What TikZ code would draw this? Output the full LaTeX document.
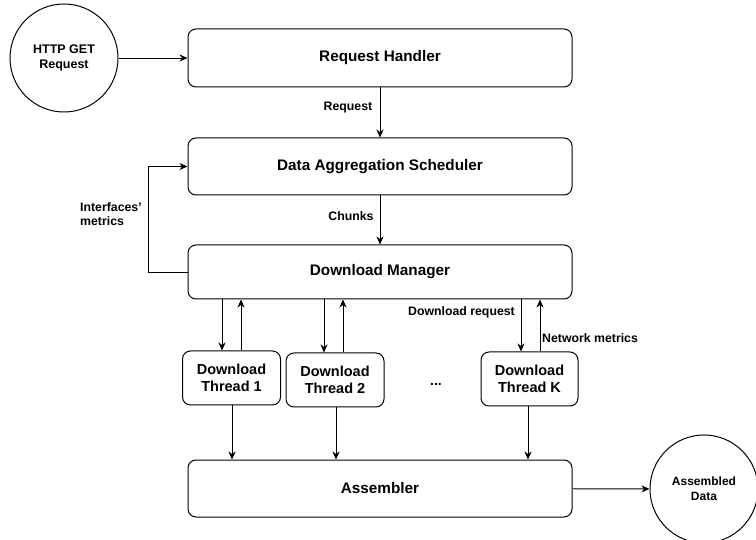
\documentclass[tikz,border=0pt]{standalone}
\usepackage{fontspec}
\setmainfont{Liberation Sans}
\usetikzlibrary{arrows.meta}
\begin{document}
\begin{tikzpicture}[x=1pt,y=-1pt,
  box/.style={draw, rounded corners=8pt, line width=1pt, inner sep=0pt, align=center,
    font=\bfseries\fontsize{15.3}{17}\selectfont},
  thr/.style={draw, rounded corners=8pt, line width=1pt, inner sep=0pt, align=center,
    minimum width=98pt, minimum height=54pt, font=\bfseries\fontsize{14.5}{17}\selectfont},
  circ/.style={draw, circle, line width=1pt, minimum size=108pt, inner sep=0pt, align=center,
    font=\bfseries\fontsize{12.5}{15.5}\selectfont},
  lbl/.style={font=\bfseries\fontsize{12.3}{14.5}\selectfont, inner sep=0pt, align=left},
  arr/.style={line width=0.9pt, -{Stealth[length=8pt,width=7pt,inset=2.5pt]}}
]
\useasboundingbox (0,0) rectangle (756,540);
\fill[white] (0,0) rectangle (756,540);
\clip (0,0) rectangle (756,540);

\node[circ] (http) at (64,58) {HTTP GET\\Request};
\node[box, minimum width=384pt, minimum height=58pt] (rh) at (380,58) {Request Handler};
\node[box, minimum width=384pt, minimum height=57pt] (das) at (380,166.5) {Data Aggregation Scheduler};
\node[box, minimum width=384pt, minimum height=54pt] (dm) at (380,272) {Download Manager};
\node[box, minimum width=384pt, minimum height=57pt] (asm) at (380,488.5) {Assembler};
\node[thr] (t1) at (231.5,378) {Download\\Thread 1};
\node[thr] (t2) at (335,380) {Download\\Thread 2};
\node[thr, minimum width=97pt] (tk) at (529.5,379) {Download\\Thread K};
\node[circ, font=\bfseries\fontsize{12}{15}\selectfont] (ad) at (704,489) {Assembled\\Data};
\node[font=\bfseries\fontsize{14}{16}\selectfont, inner sep=0pt] (dots) at (436,384) {...};

\draw[arr] (http) -- (rh);
\draw[arr] (rh) -- (das);
\draw[arr] (das) -- (dm);
\coordinate (fb) at (148,0);
\draw[arr] (dm.west) -| (fb |- das.west) -- (das.west);

\coordinate (x1d) at (222,0);
\coordinate (x1u) at (241,0);
\coordinate (x2d) at (324,0);
\coordinate (x2u) at (343,0);
\coordinate (xkd) at (521,0);
\coordinate (xku) at (540,0);
\draw[arr] (x1d |- dm.south) -- (x1d |- t1.north);
\draw[arr] (x1u |- t1.north) -- (x1u |- dm.south);
\draw[arr] (x2d |- dm.south) -- (x2d |- t2.north);
\draw[arr] (x2u |- t2.north) -- (x2u |- dm.south);
\draw[arr] (xkd |- dm.south) -- (xkd |- tk.north);
\draw[arr] (xku |- tk.north) -- (xku |- dm.south);

\coordinate (a1) at (232,0);
\coordinate (a2) at (336,0);
\coordinate (ak) at (528,0);
\draw[arr] (a1 |- t1.south) -- (a1 |- asm.north);
\draw[arr] (a2 |- t2.south) -- (a2 |- asm.north);
\draw[arr] (ak |- tk.south) -- (ak |- asm.north);
\draw[arr] (asm) -- (ad);

\node[lbl] (lreq) at (348,108) {Request};
\node[lbl] (lch) at (351,216) {Chunks};
\node[lbl, anchor=west] (lif) at (80,214) {Interfaces’\\metrics};
\node[lbl, anchor=east] (ldr) at (515,312) {Download request};
\node[lbl, anchor=west] (lnm) at (542,338) {Network metrics};
\end{tikzpicture}
\end{document}
